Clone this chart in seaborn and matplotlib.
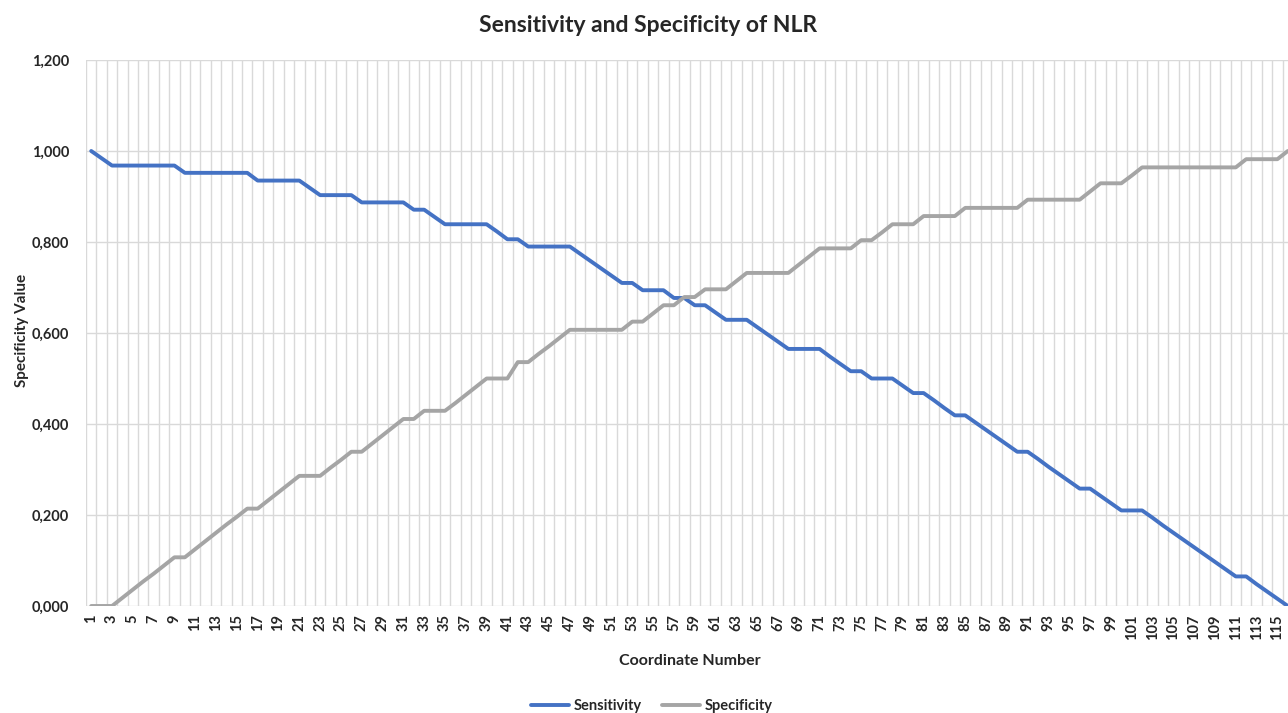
import numpy as np
import pandas as pd
import matplotlib
matplotlib.use("Agg")
import matplotlib.pyplot as plt
import matplotlib.ticker as mticker
import seaborn as sns

### Values (116 coordinates)
coord = list(range(1, 117))

sensitivity = (
    [1.000, 0.984]
    + [0.968] * 7 + [0.952] * 7 + [0.935] * 5 + [0.919] + [0.903] * 4
    + [0.887] * 5 + [0.871] * 2 + [0.855] + [0.839] * 5 + [0.823]
    + [0.806] * 2 + [0.790] * 5 + [0.774, 0.758, 0.742, 0.726]
    + [0.710] * 2 + [0.694] * 3 + [0.677] * 2 + [0.661] * 2 + [0.645]
    + [0.629] * 3 + [0.613, 0.597, 0.581] + [0.565] * 4 + [0.548, 0.532]
    + [0.516] * 2 + [0.500] * 3 + [0.484] + [0.468] * 2 + [0.452, 0.435]
    + [0.419] * 2 + [0.403, 0.387, 0.371, 0.355] + [0.339] * 2
    + [0.323, 0.306, 0.290, 0.274] + [0.258] * 2 + [0.242, 0.226]
    + [0.210] * 3 + [0.194, 0.177, 0.161, 0.145, 0.129, 0.113, 0.097, 0.081]
    + [0.065] * 2 + [0.048, 0.032, 0.016, 0.000]
)

specificity = (
    [0.000] * 3 + [0.018, 0.036, 0.054, 0.071, 0.089] + [0.107] * 2
    + [0.125, 0.143, 0.161, 0.179, 0.196] + [0.214] * 2
    + [0.232, 0.250, 0.268] + [0.286] * 3 + [0.304, 0.321] + [0.339] * 2
    + [0.357, 0.375, 0.393] + [0.411] * 2 + [0.429] * 3
    + [0.446, 0.464, 0.482] + [0.500] * 3 + [0.536] * 2
    + [0.554, 0.571, 0.589] + [0.607] * 6 + [0.625] * 2 + [0.643]
    + [0.661] * 2 + [0.679] * 2 + [0.696] * 3 + [0.714] + [0.732] * 5
    + [0.750, 0.768] + [0.786] * 4 + [0.804] * 2 + [0.821] + [0.839] * 3
    + [0.857] * 4 + [0.875] * 6 + [0.893] * 6 + [0.911] + [0.929] * 3
    + [0.946] + [0.964] * 10 + [0.982] * 4 + [1.000]
)

x_tick_labels = [str(i) for i in range(1, 116, 2)]

df = pd.concat([
    pd.DataFrame({"Coordinate": coord, "Value": sensitivity, "Series": "Sensitivity"}),
    pd.DataFrame({"Coordinate": coord, "Value": specificity, "Series": "Specificity"}),
], ignore_index=True)

sns.set_theme(style="white")
plt.rcParams['font.family'] = ['Lato', 'DejaVu Sans']
plt.rcParams['font.weight'] = 'bold'

fig = plt.figure(figsize=(12.88, 7.13), dpi=100)
ax = fig.add_axes([86 / 1288, 1 - 606 / 713, 1207 / 1288, 546 / 713])

sns.lineplot(data=df, x="Coordinate", y="Value", hue="Series",
             palette={"Sensitivity": "#4472C4", "Specificity": "#A5A5A5"},
             linewidth=2.8, ax=ax, legend=True)

### axes, ticks, grid
ax.set_xlim(0.5, 116.5)
ax.set_ylim(0, 1.2)
ax.set_yticks(np.arange(0, 1.21, 0.2))
ax.yaxis.set_major_formatter(mticker.FuncFormatter(lambda v, p: f"{v:.3f}".replace(".", ",")))
ax.set_xticks(range(1, 116, 2))
ax.set_xticklabels(x_tick_labels, rotation=90, fontsize=10.5, fontweight="bold")
ax.set_xticks(np.arange(0.5, 117, 1.0), minor=True)
for lab in ax.get_yticklabels():
    lab.set_fontsize(10.5)
    lab.set_fontweight("bold")
ax.tick_params(axis="both", which="both", length=0)
ax.tick_params(axis="x", pad=6)
ax.tick_params(axis="y", pad=12)

ax.grid(axis="x", which="minor", color="#D9D9D9", linewidth=1.0)
ax.grid(axis="y", which="major", color="#D9D9D9", linewidth=1.0)
ax.grid(axis="x", which="major", visible=False)
ax.set_axisbelow(True)
for s in ax.spines.values():
    s.set_visible(False)

ax.set_xlabel("Coordinate Number", fontsize=11.5, fontweight="bold")
ax.xaxis.set_label_coords(0.5, -0.087)
ax.set_ylabel("Specificity Value", fontsize=11, fontweight="bold")
ax.yaxis.set_label_coords(-0.047, 0.505)

fig.suptitle("Sensitivity and Specificity of NLR", x=648 / 1288, y=1 - 25 / 713,
             va="center", fontsize=16.5, fontweight="bold")

handles, labels = ax.get_legend_handles_labels()
ax.get_legend().remove()
fig.legend(handles, labels, loc="center", bbox_to_anchor=(652 / 1288, 1 - 706 / 713),
           ncol=2, frameon=False, fontsize=10.5, handlelength=2.6,
           columnspacing=1.4, handletextpad=0.3)

fig.savefig("out.png", dpi=100)
